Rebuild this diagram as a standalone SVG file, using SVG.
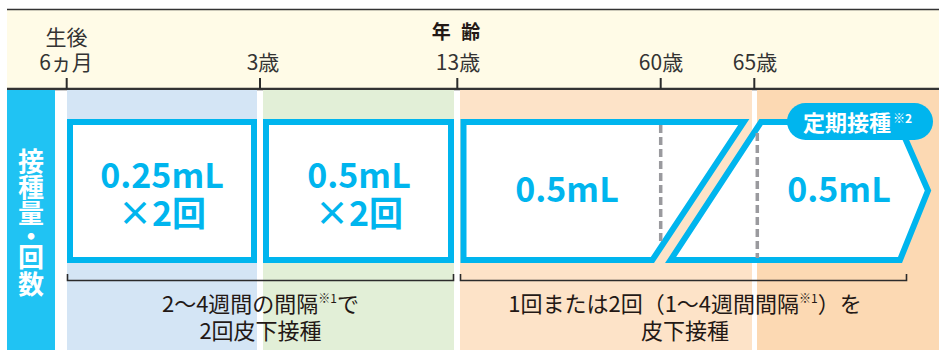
<svg xmlns="http://www.w3.org/2000/svg" width="939" height="350" viewBox="0 0 939 350">
<style>
.jp{font-family:"Noto Sans CJK JP","Noto Sans",sans-serif}
.axis{font-size:21px;fill:#333;text-anchor:middle}
.box{fill:#fff;stroke:#00B5EE;stroke-width:6;stroke-linejoin:miter}
.big{font-size:34px;font-weight:bold;fill:#00B5EE;text-anchor:middle}
.note{font-size:22px;fill:#231815;text-anchor:middle}
.sup{font-size:12px}
.tick{stroke:#2b2b2b;stroke-width:2}
.dash{stroke:#9A9A9E;stroke-width:3.5;stroke-dasharray:8 4}
.brk{fill:none;stroke:#2b2b2b;stroke-width:1.6}
</style>
<rect width="939" height="350" fill="#fff"/>
<g id="header">
<rect x="7" y="9" width="932" height="80" fill="#FFFBE7"/>
<line x1="7" y1="9.5" x2="939" y2="9.5" stroke="#333" stroke-width="1.5"/>
<line x1="7" y1="89" x2="939" y2="89" stroke="#333" stroke-width="2.4"/>
<text class="jp" x="457.5" y="39" font-size="19" font-weight="bold" fill="#231815" text-anchor="middle" letter-spacing="3">年 齢</text>
<line class="tick" x1="66.7" y1="78" x2="66.7" y2="89"/>
<line class="tick" x1="260" y1="78" x2="260" y2="89"/>
<line class="tick" x1="457.3" y1="78" x2="457.3" y2="89"/>
<line class="tick" x1="660.7" y1="78" x2="660.7" y2="89"/>
<line class="tick" x1="754.3" y1="78" x2="754.3" y2="89"/>
<text class="jp axis" x="66.5" y="45">生後<tspan x="66" dy="25">6ヵ月</tspan></text>
<text class="jp axis" x="263" y="70">3歳</text>
<text class="jp axis" x="458" y="70">13歳</text>
<text class="jp axis" x="661" y="70">60歳</text>
<text class="jp axis" x="755" y="70">65歳</text>
</g>
<g id="columns">
<rect x="7" y="90" width="48" height="260" fill="#20C3F3"/>
<rect x="67" y="90" width="190" height="260" fill="#D4E5F5"/>
<rect x="263" y="90" width="191" height="260" fill="#E2EFD7"/>
<rect x="460" y="90" width="292" height="260" fill="#FDE3C8"/>
<rect x="757" y="90" width="182" height="260" fill="#FCD9B3"/>
</g>
<g id="side-label">
<text class="jp" x="31" y="148" font-size="26" font-weight="bold" fill="#fff" style="writing-mode:vertical-rl">接種量<tspan dy="-3">・</tspan><tspan dy="-5">回</tspan><tspan dy="1">数</tspan></text>
</g>
<g id="box1">
<rect class="box" x="70" y="122" width="184" height="138"/>
<text class="jp big" x="162" y="188">0.25mL<tspan x="162" dy="38">×2回</tspan></text>
</g>
<g id="box2">
<rect class="box" x="266" y="122" width="185" height="138"/>
<text class="jp big" x="359" y="188">0.5mL<tspan x="359" dy="38">×2回</tspan></text>
</g>
<g id="box3">
<polygon class="box" points="463.5,122 743.8,122 652.4,260 463.5,260"/>
<line class="dash" x1="660.7" y1="125" x2="660.7" y2="243"/>
<text class="jp big" x="567" y="202">0.5mL</text>
</g>
<g id="box4">
<polygon class="box" points="761,122 898,122 928,190.5 900,260 670.6,260"/>
<line class="dash" x1="757.3" y1="133" x2="757.3" y2="258"/>
<text class="jp big" x="839" y="202">0.5mL</text>
<rect x="787" y="103" width="146" height="37" rx="18.5" fill="#00B5EE"/>
<text class="jp" x="803" y="131" font-size="22" font-weight="bold" fill="#fff">定期接種<tspan class="sup" dy="-8" dx="2">※2</tspan></text>
</g>
<g id="connectors">
<path class="brk" d="M67.5,274 V280.5 H453.5 V274"/>
<path class="brk" d="M460.5,274 V280.5 H906.5 V274"/>
</g>
<g id="notes">
<text class="jp note" x="260.5" y="312">2〜4週間の間隔<tspan class="sup" dy="-9">※1</tspan><tspan dy="9">で</tspan><tspan x="260.5" dy="27">2回皮下接種</tspan></text>
<text class="jp note" x="685" y="312">1回または2回（1〜4週間間隔<tspan class="sup" dy="-9">※1</tspan><tspan dy="9">）を</tspan><tspan x="685" dy="27">皮下接種</tspan></text>
</g>
</svg>
